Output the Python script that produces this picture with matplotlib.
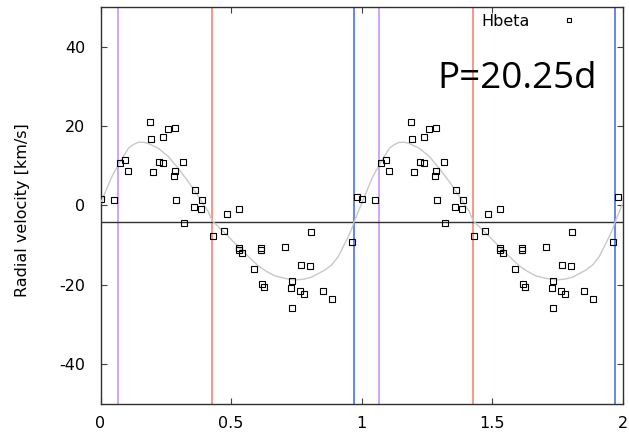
import matplotlib
matplotlib.use("Agg")
import matplotlib.pyplot as plt
from matplotlib.lines import Line2D

plt.rcParams["axes.unicode_minus"] = False

# Hbeta radial velocities folded on P = 20.25 d
phase = [0.001, 0.052, 0.075, 0.094, 0.104, 0.189, 0.192, 0.201, 0.223, 0.241,
         0.238, 0.259, 0.287, 0.280, 0.287, 0.315, 0.290, 0.320, 0.361, 0.358,
         0.385, 0.389, 0.431, 0.472, 0.484, 0.531, 0.531, 0.531, 0.542, 0.589,
         0.615, 0.615, 0.620, 0.626, 0.707, 0.807, 0.768, 0.803, 0.734, 0.731,
         0.766, 0.780, 0.851, 0.886, 0.734, 0.965, 0.982]
rv = [1.6, 1.3, 10.6, 11.4, 8.7, 21.1, 16.8, 8.5, 11.0, 10.6,
      17.3, 19.3, 19.6, 7.5, 8.7, 11.0, 1.3, -4.4, 3.9, -0.4,
      -0.8, 1.3, -7.7, -6.5, -2.2, -1.0, -10.8, -11.3, -12.1, -16.0,
      -10.8, -11.3, -19.9, -20.5, -10.5, -6.6, -15.0, -15.2, -19.1, -20.9,
      -21.5, -22.3, -21.7, -23.5, -25.8, -9.2, 2.1]

# orbital solution sampled over one cycle
fit_phase = [0.000, 0.020, 0.043, 0.075, 0.107, 0.125, 0.145, 0.165, 0.183, 0.221,
             0.260, 0.298, 0.336, 0.375, 0.413, 0.428, 0.464, 0.477, 0.541, 0.605,
             0.637, 0.669, 0.707, 0.745, 0.780, 0.809, 0.860, 0.886, 0.911, 0.949,
             0.962, 0.972, 1.000]
fit_rv = [0.4, 3.6, 7.2, 11.0, 14.4, 15.3, 15.9, 15.9, 15.6, 14.4,
          12.3, 9.3, 6.0, 2.2, -1.6, -3.9, -6.2, -7.0, -11.3, -15.3,
          -16.7, -17.8, -18.4, -18.8, -18.6, -18.1, -16.3, -15.0, -12.9, -7.9,
          -6.0, -4.1, 0.4]

gamma = -4.1
phase_marks = [0.068, 0.427, 0.972]
mark_colors = ["#c48cff", "#f87a6c", "#3c64e6"]

fig = plt.figure(figsize=(6.29, 4.33), dpi=100)
ax = fig.add_axes([0.1598, 0.0677, 0.8299, 0.9161])

for k in (0, 1):
    for p, c in zip(phase_marks, mark_colors):
        ax.axvline(p + k, color=c, linewidth=1.1, zorder=1)

ax.axhline(gamma, color="#303030", linewidth=1.0, zorder=2)

ax.plot(fit_phase + [p + 1 for p in fit_phase], fit_rv + fit_rv,
        color="#c8c8c8", linewidth=1.0, zorder=3)

ax.plot(phase + [p + 1 for p in phase], rv + rv, linestyle="none",
        marker="s", markersize=4.2, markerfacecolor="none",
        markeredgecolor="black", markeredgewidth=0.8, zorder=4)

ax.set_xlim(0, 2)
ax.set_ylim(-50, 50)
ax.set_xticks([0, 0.5, 1, 1.5, 2])
ax.set_xticklabels(["0", "0.5", "1", "1.5", "2"])
ax.set_yticks([-40, -20, 0, 20, 40])
ax.tick_params(direction="in", length=4, width=0.8, top=True, right=True,
               labelsize=11.5, color="#404040")
ax.tick_params(axis="x", pad=9)
ax.tick_params(axis="y", pad=11)
for s in ax.spines.values():
    s.set_linewidth(1.0)
    s.set_color("#303030")

ax.set_ylabel("Radial velocity [km/s]", fontsize=11.5)
ax.yaxis.set_label_coords(-0.135, 0.488)

key = Line2D([], [], linestyle="none", marker="s", markersize=3.2,
             markerfacecolor="none", markeredgecolor="black",
             markeredgewidth=0.8, label="Hbeta")
fig.legend(handles=[key], loc="center left", markerfirst=False, frameon=False,
           bbox_to_anchor=(481 / 629, 1 - 21 / 433), bbox_transform=fig.transFigure,
           fontsize=11.5, handlelength=2.0, handletextpad=1.5,
           borderpad=0, borderaxespad=0)

fig.text(437 / 629, 1 - 88 / 433, "P=20.25d", fontsize=26.5,
         family="Open Sans", va="baseline", ha="left")

fig.savefig("out.png", dpi=100)
